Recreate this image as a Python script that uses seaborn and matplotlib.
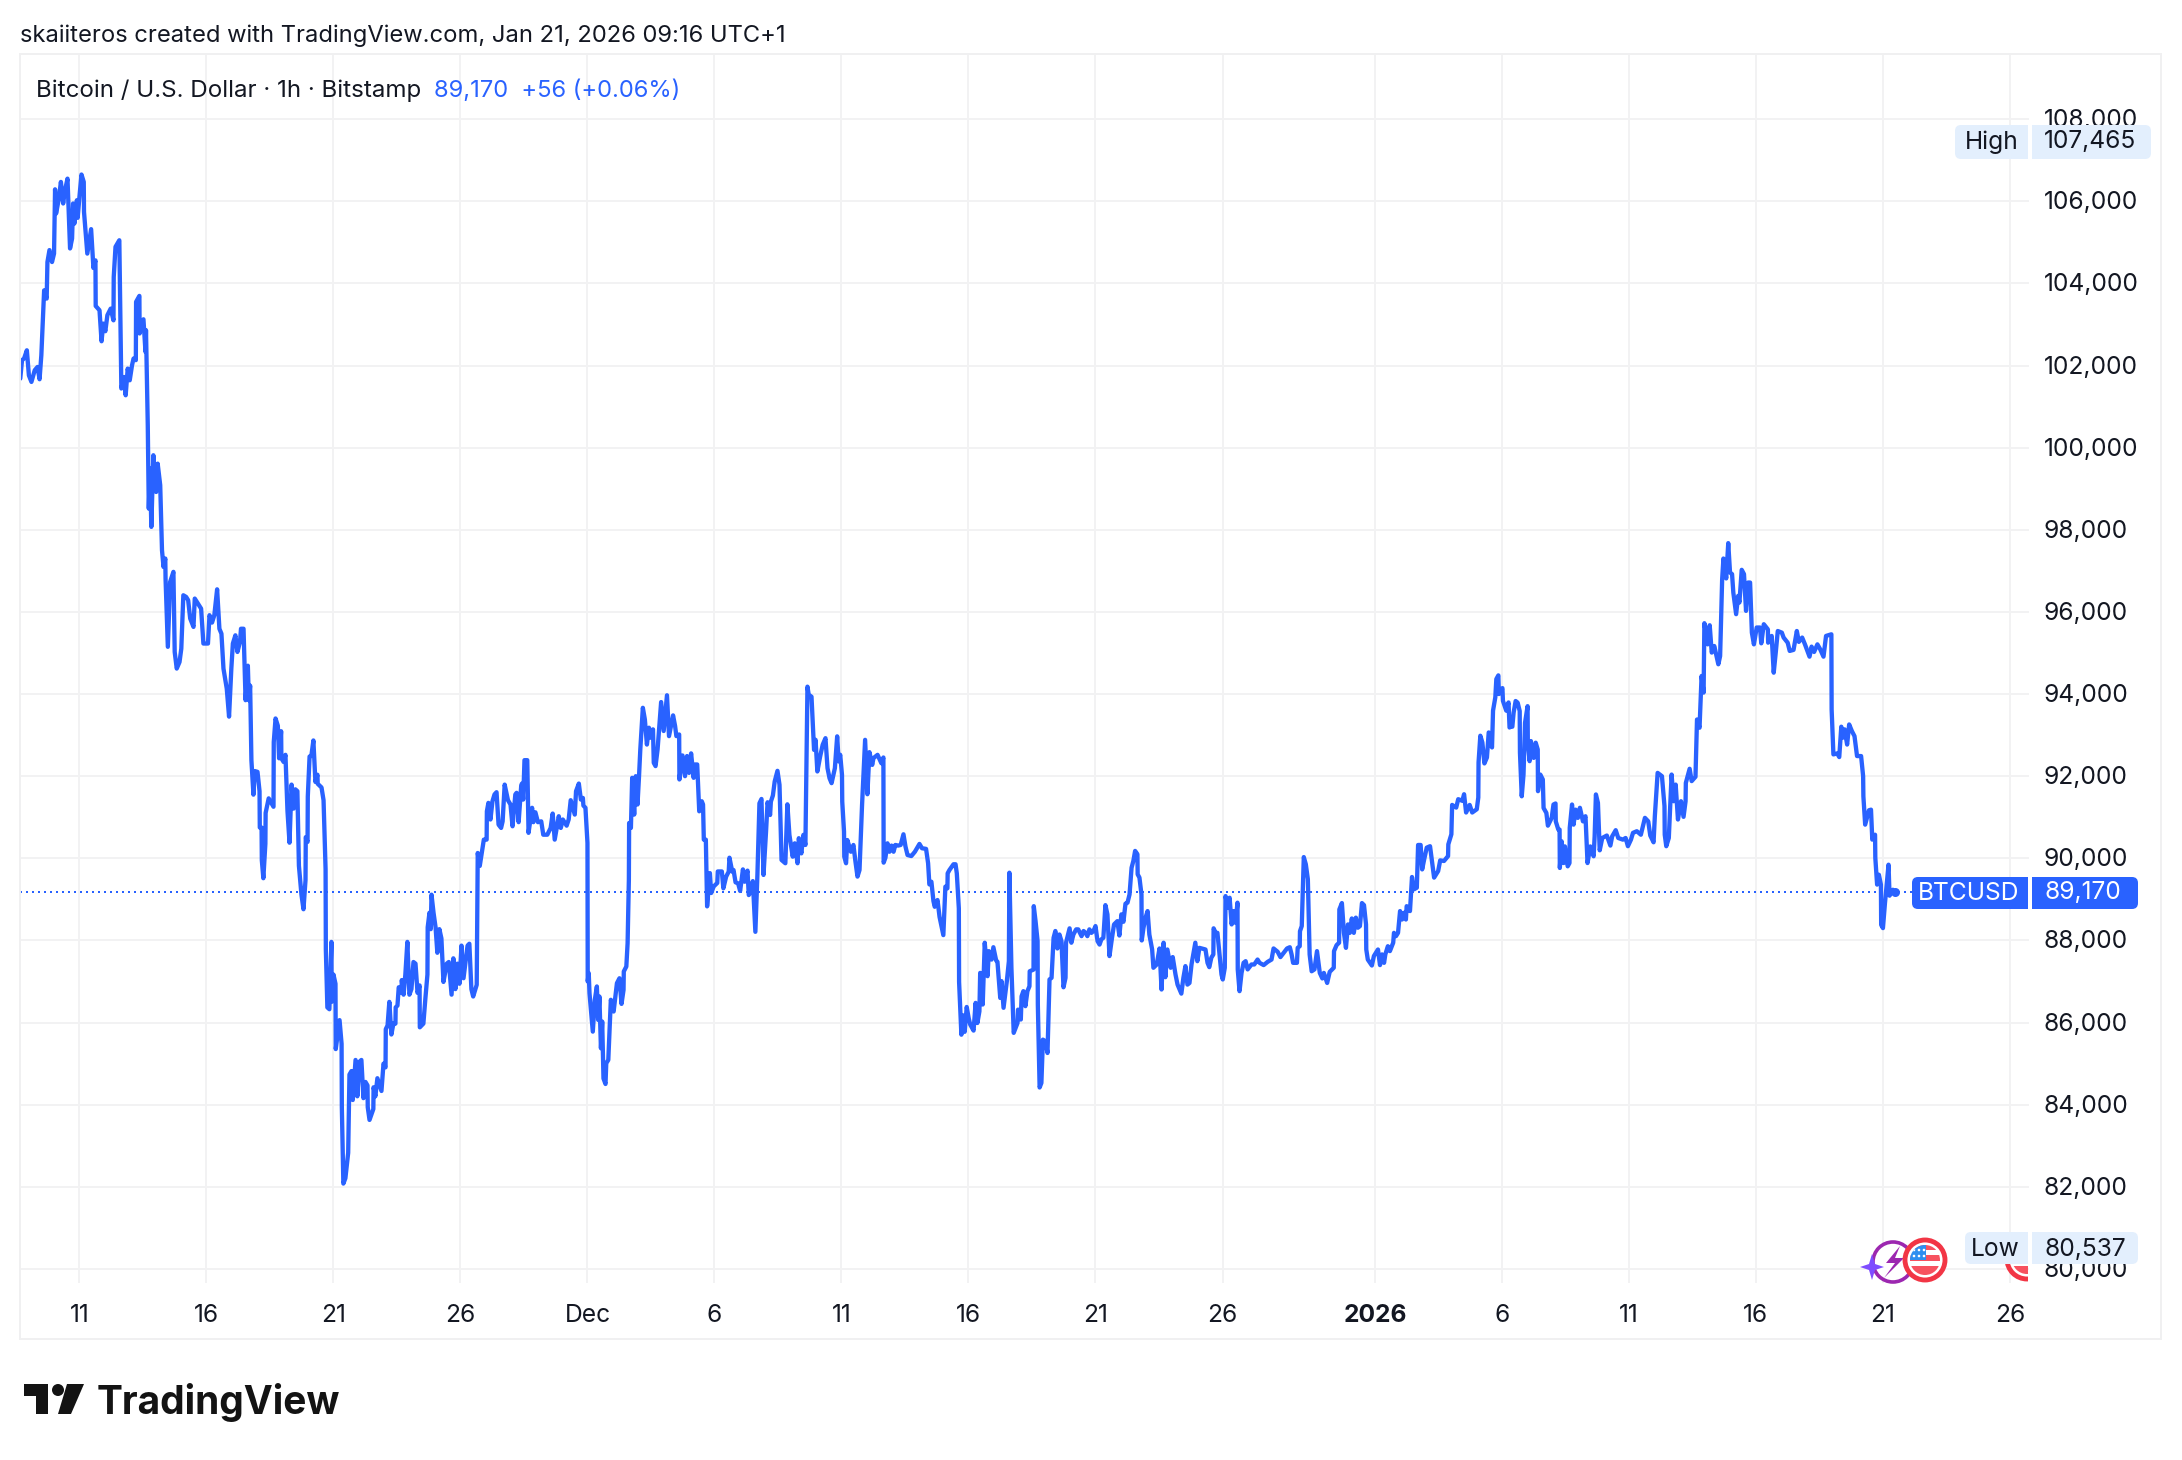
import numpy as np
import pandas as pd
import matplotlib
matplotlib.use("Agg")
import matplotlib.pyplot as plt
import matplotlib.patches as mp
from matplotlib.transforms import Affine2D, Bbox
import seaborn as sns

# Day number counted from 1 Nov 2025 = 1 (1 Dec = 31, 1 Jan = 62)
days = [
8.67,8.74,8.82,8.93,9.01,9.11,9.24,9.35,9.43,9.50,9.61,9.71,9.74,9.82,9.92,10.00,10.04,10.08,10.19,10.27,10.36,10.42,10.53,10.63,10.71,10.75,10.80,10.90,10.93,11.00,
11.08,11.17,11.18,11.31,11.46,11.55,11.63,11.64,11.79,11.87,11.94,12.02,12.10,12.23,12.34,12.35,12.42,12.57,12.65,12.76,12.82,12.90,12.98,13.07,13.13,13.22,13.23,13.36,13.37,13.52,
13.60,13.62,13.69,13.73,13.78,13.83,13.91,14.02,14.08,14.18,14.25,14.31,14.38,14.39,14.48,14.57,14.70,14.75,14.83,14.94,15.01,15.09,15.20,15.28,15.36,15.49,15.54,15.67,15.79,15.88,
16.06,16.12,16.22,16.31,16.42,16.51,16.59,16.67,16.80,16.89,16.98,17.04,17.14,17.22,17.32,17.36,17.46,
17.54,17.63,17.67,17.72,17.77,17.85,17.90,18.01,18.09,18.10,18.17,18.18,18.24,18.32,18.33,18.45,18.64,18.65,18.72,18.81,18.86,18.94,18.95,19.04,19.11,19.19,19.27,19.35,19.43,19.50,
19.58,19.64,19.74,19.82,19.90,19.91,19.98,19.99,20.06,20.13,20.21,20.29,20.37,20.38,20.53,20.61,20.69,20.70,20.76,20.84,20.92,20.93,21.00,21.08,21.09,21.24,21.32,21.33,21.39,21.47,
21.58,21.63,21.71,21.76,21.87,21.94,22.02,22.10,22.18,22.26,22.34,22.35,22.42,22.57,22.58,22.65,22.73,22.89,22.97,23.05,23.06,23.13,23.20,23.28,23.36,23.44,23.45,23.52,23.57,23.68,
23.69,23.76,23.83,23.91,23.99,24.07,24.15,24.23,24.31,24.39,24.40,24.54,24.62,24.70,24.71,24.78,24.83,24.86,24.94,25.02,25.09,25.17,25.25,25.33,25.46,25.54,25.65,25.72,25.80,25.88,
25.96,26.04,26.12,26.28,26.35,26.43,
26.50,26.64,26.68,26.76,26.92,27.03,27.04,27.10,27.18,27.26,27.34,27.42,27.50,27.60,27.66,27.74,27.87,27.97,28.05,28.16,28.21,28.29,28.39,28.42,28.47,28.52,28.63,28.68,28.82,28.87,
28.95,29.05,29.18,29.26,29.42,29.55,29.63,29.71,29.87,29.95,30.03,30.18,30.26,30.34,30.50,30.55,30.66,30.74,30.82,30.84,30.92,31.00,31.01,31.05,31.08,31.21,31.29,31.37,31.42,31.47,
31.53,31.58,31.63,31.71,31.74,31.82,31.92,32.03,32.16,32.26,32.34,32.42,32.43,32.53,32.58,32.63,32.64,32.71,32.76,32.84,32.90,32.97,33.03,33.08,33.18,33.26,33.34,33.42,33.50,33.58,
33.61,33.68,33.76,33.90,34.00,34.13,34.21,34.37,34.45,34.50,34.61,34.62,34.74,34.84,34.92,35.00,35.08,35.18,35.24,35.32,35.40,35.50,35.55,35.58,35.66,35.71,35.82,35.87,35.97,36.11,36.13,36.29,
36.35,36.46,36.56,36.59,36.70,36.75,36.83,36.93,37.01,37.12,37.19,37.30,37.35,37.43,37.51,37.61,37.69,37.77,37.85,37.93,38.03,38.09,38.19,38.22,38.30,38.37,38.48,38.56,38.64,38.79,
38.87,38.95,39.08,39.16,39.27,39.32,39.42,39.50,39.58,39.66,39.71,39.82,39.92,39.98,40.05,40.16,40.26,40.37,40.45,40.53,40.61,40.74,40.83,40.89,40.95,41.02,41.03,41.10,41.11,41.18,
41.23,41.37,41.47,41.55,41.63,41.71,41.81,41.93,42.02,42.10,42.21,42.26,42.42,42.57,42.65,42.66,42.73,42.81,42.89,42.97,43.05,43.12,43.23,43.33,43.44,43.52,43.60,43.75,43.89,44.07,
44.17,44.33,44.41,44.46,44.54,44.62,44.67,44.78,44.86,45.01,45.09,45.17,45.18,45.25,45.41,45.49,45.54,45.62,45.63,45.72,45.77,45.85,45.93,46.01,
46.07,46.20,46.28,46.35,46.43,46.46,46.56,46.64,46.75,46.80,46.91,46.98,47.09,47.14,47.25,47.30,47.38,47.46,47.51,47.59,47.61,47.69,47.78,47.93,47.95,48.06,48.09,48.16,48.24,48.32,
48.40,48.41,48.56,48.57,48.64,48.72,48.73,48.80,48.87,48.93,49.03,49.11,49.19,49.27,49.35,49.42,49.50,49.58,49.66,49.74,49.82,49.84,49.98,50.05,50.13,50.24,50.32,50.45,50.53,50.61,
50.68,50.76,50.84,50.92,51.00,51.08,51.16,51.23,51.31,51.39,51.47,51.55,51.65,51.73,51.86,51.94,52.02,52.10,52.18,52.26,52.34,52.42,52.49,52.56,52.65,52.66,52.73,52.81,52.82,52.89,
52.97,53.05,53.12,53.23,53.28,53.41,53.52,53.60,53.68,53.75,53.83,53.96,54.04,54.15,54.23,54.38,54.46,54.54,54.62,54.70,54.78,54.93,55.01,55.09,55.33,55.41,55.48,55.56,55.64,55.65,
55.73,55.80,55.96,56.01,
56.09,56.12,56.20,56.28,56.36,56.43,56.51,56.59,56.60,56.67,56.75,56.83,56.91,56.99,57.14,57.25,57.38,57.46,57.62,57.78,57.93,58.01,58.17,58.28,58.41,58.54,58.65,58.72,58.78,58.93,
58.96,59.04,59.05,59.12,59.20,59.28,59.36,59.43,59.51,59.62,59.72,59.83,59.93,59.99,60.12,60.22,60.38,60.39,60.49,60.59,60.60,60.70,60.78,60.86,60.94,61.01,61.09,61.17,61.25,61.33,
61.41,61.49,61.57,61.65,61.66,61.72,61.88,61.96,62.12,62.20,62.28,62.36,62.41,62.51,62.59,62.72,62.75,62.83,62.91,62.99,63.07,63.15,63.22,63.25,63.38,63.46,63.54,63.65,63.70,63.80,
63.86,63.94,64.04,64.17,64.33,64.49,64.57,64.72,64.88,64.89,65.01,65.04,65.20,65.28,65.44,65.51,65.59,65.73,65.83,66.01,66.07,66.08,66.15,66.23,66.31,66.41,66.48,66.61,66.65,66.74,
66.78,66.86,66.88,67.02,67.04,67.17,67.26,67.30,
67.33,67.41,67.46,67.54,67.62,67.70,67.71,67.78,67.85,67.91,68.01,68.02,68.09,68.14,68.25,68.33,68.41,68.42,68.51,68.61,68.64,68.75,68.81,68.96,69.03,69.11,69.12,69.22,69.27,69.28,
69.35,69.43,69.48,69.59,69.66,69.67,69.76,69.82,69.90,69.99,70.07,70.19,70.29,70.37,70.48,70.61,70.65,70.70,70.78,70.85,70.95,71.13,71.27,71.34,71.48,71.58,71.76,71.87,71.96,72.08,
72.16,72.31,72.47,72.63,72.76,72.84,72.97,73.02,73.13,73.30,73.40,73.41,73.47,73.57,73.68,73.76,73.84,73.93,74.05,74.15,74.23,74.24,74.39,74.47,74.62,74.68,74.78,
74.86,74.94,74.97,75.10,75.18,75.26,75.36,75.52,75.59,75.67,75.72,75.83,75.91,75.98,76.06,76.11,76.22,76.30,76.35,76.44,76.53,76.61,76.69,76.77,76.84,76.92,77.03,77.16,77.21,77.31,
77.47,77.48,77.62,77.70,77.78,77.86,78.02,78.09,78.25,78.33,78.48,78.61,78.69,78.82,78.93,79.11,79.19,79.29,79.42,79.53,79.66,79.76,79.97,79.98,80.05,80.20,80.28,80.36,80.41,80.49,
80.59,80.67,80.78,80.88,80.98,81.14,81.22,81.23,81.30,81.45,81.53,81.58,81.69,81.70,81.77,81.84,81.92,81.93,82.00,82.08,82.22,82.26,82.39,82.49]

prices = [
101680,102130,102170,102370,101760,101600,101885,101965,101665,102250,103830,103630,104520,104810,104520,104725,106290,105700,106065,106470,105945,106230,106550,104850,105090,105945,105455,106025,105595,106105,
106650,106470,105740,104725,105320,104375,104560,103450,103345,102590,103020,102835,103225,103385,103100,104155,104890,105050,101440,101720,101275,101925,101640,102005,102170,102130,103550,103695,102780,103125,
102330,102860,100545,98515,99490,98070,99815,98920,99610,99085,97500,97095,97300,96810,95150,96730,96975,95025,94620,94780,95105,96405,96365,96285,95840,95635,96325,96200,96080,95230,
95230,95920,95740,95920,96550,95590,95470,94620,94130,93450,94620,95230,95430,95025,95270,95590,95590,
93850,94690,93850,94205,92390,91550,92125,92105,91635,90750,90750,89955,89515,90355,91105,91460,91255,92830,93405,93230,92435,93095,92435,92345,92520,91150,90380,91795,91210,91680,
91635,89820,89115,88760,89470,90515,90400,91505,92480,92495,92870,91860,92035,91815,91725,91415,89735,87785,86370,86325,87965,86505,87170,86945,85355,86060,85485,83940,82080,82210,
82830,84735,84820,84115,85090,84205,85045,85090,84160,84555,84470,83940,83630,83895,84425,84205,84645,84335,85000,84910,85840,85930,86505,85710,85975,85975,86370,86415,86860,86725,
87035,86680,87170,87965,86680,86815,87475,87435,86725,86905,85885,85975,86595,87170,88320,88675,88275,89115,88675,88320,87700,88275,88050,86990,87435,87475,86680,87565,86815,87435,
86945,87875,87080,87875,87920,86815,
86635,86920,90130,89815,90455,90455,91145,91350,90945,91390,91555,91610,90820,90740,90900,91795,91415,91310,90780,91555,91595,90880,91755,91820,91430,92390,92390,90620,91230,90880,
91120,90880,90900,90575,90575,90740,91090,90455,91025,90740,90945,90795,90945,91415,91065,91635,91820,91430,91470,91285,91230,90375,87000,87205,86715,85780,86555,86880,86065,86635,
85375,86025,84640,84505,85010,85090,86555,86270,86960,87080,86455,86795,87245,87365,87935,89480,90860,90740,91960,91065,92000,91310,92000,92650,93665,93380,92770,93180,92935,93140,
92325,92245,92650,93805,93100,93970,92975,93480,93220,92975,93015,91920,92505,92000,92490,92080,92555,91960,92285,92285,91145,91390,91310,90455,90455,88830,89640,89155,89315,89400,89680,89680,
89270,89555,89675,90015,89675,89715,89415,89390,89205,89730,89430,89700,89105,89185,89445,88210,89595,91340,91445,89595,90650,91365,91055,91380,91530,91870,92130,91790,89960,89880,
91315,90570,90040,90365,89880,90490,90120,90570,90325,94180,93985,93935,92640,92885,92115,92480,92765,92925,92195,91950,91830,92195,92970,92360,92520,92035,91380,90650,90040,89880,
90445,90160,90325,89920,89555,89715,91300,92885,91560,92585,92275,92440,92520,92315,92455,89895,90015,90365,90160,90310,90160,90325,90310,90325,90585,90285,90080,90055,90160,90350,
90245,90230,89880,89365,89430,88960,88820,88985,88575,88130,89310,89270,89635,89715,89855,89855,89635,88780,86990,85705,86180,85775,86380,86100,
85950,85805,86480,85990,86275,87210,86440,87945,87130,87740,87535,87835,87510,87480,86600,87010,86360,86765,87010,87495,89650,87335,85750,85990,86315,86075,86640,86765,86400,86765,
86885,87250,87290,88835,88470,87985,86440,84420,84530,85585,85545,85260,87050,87090,88065,88230,87805,88145,87985,86860,87090,87945,88295,87945,88145,88270,88270,88105,88230,88185,
88105,88270,88185,88230,88350,87985,87900,88025,88065,88860,88635,87620,88065,88390,88470,88120,88635,88455,88895,88920,89120,89770,89935,90180,90100,89610,89530,89120,88000,88310,
88555,88715,88145,87780,87335,87415,87805,86805,87945,87105,87780,87335,87595,87170,86925,86705,87090,87375,86925,86965,87415,87945,87495,87820,87780,87455,87350,87580,87660,88295,
88185,88185,87170,87050,
87335,89080,88795,89040,88390,88715,88430,88920,87295,86765,87210,87455,87495,87295,87415,87415,87535,87455,87400,87480,87535,87805,87725,87595,87700,87805,87835,87660,87455,87455,
87820,87860,88225,88350,90030,89855,89490,87660,87250,87295,87740,87210,87075,87210,86965,87235,87335,87740,87885,87945,88755,88910,88185,87820,88390,88185,88535,88185,88555,88310,
88350,88910,88860,88390,87780,87535,87390,87620,87780,87400,87660,87455,87660,87860,87740,87945,88185,88105,88185,88715,88510,88675,88510,88835,88715,89545,89245,89285,90325,90325,
89730,89975,90260,90295,89530,89690,89950,89935,90055,90340,90585,91300,91235,91440,91400,91560,91115,91300,91115,91195,91480,92335,92985,92820,92310,92455,93065,92700,93595,93920,
94365,94455,94000,94145,93835,93595,93795,93185,
93205,93205,93545,93830,93790,93585,92570,91510,92040,93300,93705,92815,92365,92855,92445,92815,92650,91635,92040,91920,91225,91105,90795,90985,91310,91335,90900,90700,90700,89765,
90415,89885,90290,89805,89885,90740,91310,90820,91185,90985,91230,90900,91025,89885,90290,90050,90535,91555,91350,90195,90495,90555,90310,90535,90685,90495,90455,90495,90295,90455,
90620,90660,90575,90985,90900,90555,90390,91025,92080,92000,91270,90575,90295,90495,92040,91390,91795,90945,91390,91010,91390,91835,92180,91880,91985,93380,93180,
94440,94035,95725,95210,95675,95010,95170,94725,94925,96795,97300,96815,97675,96960,96920,96470,95945,96390,96230,97025,96920,96025,96715,96715,95495,95210,95620,95620,95235,95700,
95575,95250,95415,94520,95010,95535,95495,95375,95250,95050,95075,95535,95270,95375,95210,94910,95155,95025,95210,95090,94910,95415,95455,93625,92530,92555,92465,93205,92935,93140,
92770,93260,93095,92975,92490,92490,92000,91510,90820,91170,91185,90455,90575,90010,89360,89600,89360,88380,88300,88910,89845,89090,89235,89170]

price_ticks = [80000, 82000, 84000, 86000, 88000, 90000, 92000, 94000, 96000, 98000,
               100000, 102000, 104000, 106000, 108000]
date_ticks = ["2025-11-11", "2025-11-16", "2025-11-21", "2025-11-26", "2025-12-01", "2025-12-06",
              "2025-12-11", "2025-12-16", "2025-12-21", "2025-12-26", "2026-01-01", "2026-01-06",
              "2026-01-11", "2026-01-16", "2026-01-21", "2026-01-26"]
date_labels = ["11", "16", "21", "26", "Dec", "6", "11", "16", "21", "26", "2026", "6", "11", "16", "21", "26"]
last_price = 89170
high_price = 107465
low_price = 80537

W, H = 2182, 1460
BLUE = "#2962FF"
INK = "#131722"
GRID = "#f2f2f3"
LABEL_BG = "#e3effd"
FS = 17.7

sns.set_theme(style="white")
plt.rcParams["font.family"] = ["Inter", "DejaVu Sans"]

fig = plt.figure(figsize=(W / 100, H / 100), dpi=100, facecolor="white")
ax = fig.add_axes([20 / W, 1 - 1283 / H, 2009 / W, 1229 / H])

base = pd.Timestamp("2025-11-01")
frame = pd.DataFrame({
    "time": base + pd.to_timedelta(np.array(days) - 1, unit="D"),
    "price": prices,
})
sns.lineplot(data=frame, x="time", y="price", color=BLUE, linewidth=3.1, estimator=None,
             sort=False, ax=ax, zorder=3, solid_joinstyle="round", solid_capstyle="round")
ax.plot(frame["time"].iloc[-1:], frame["price"].iloc[-1:], "o", color=BLUE, ms=6.5, mew=0, zorder=3)
ax.axhline(last_price, color=BLUE, lw=1.44, ls=(0, (1, 2)), zorder=2)

ax.set_xlim(base + pd.Timedelta(days=7.66), base + pd.Timedelta(days=86.75))
ax.set_ylim(79659, 109585)
ax.set_xlabel("")
ax.set_ylabel("")
ax.yaxis.tick_right()
ax.set_yticks(price_ticks)
ax.set_yticklabels([f"{v:,}" for v in price_ticks])
ax.set_xticks(pd.to_datetime(date_ticks))
ax.set_xticklabels(date_labels)
ax.tick_params(axis="both", length=0, labelsize=FS, labelcolor=INK)
ax.tick_params(axis="y", pad=10.5)
ax.tick_params(axis="x", pad=14.8)
for lab in ax.get_xticklabels():
    if lab.get_text() == "2026":
        lab.set_fontweight("bold")
for tick in ax.yaxis.get_major_ticks():
    tick.label2.set_transform(tick.label2.get_transform() + Affine2D().translate(0, 1))
ax.grid(True, color=GRID, lw=1.4)
ax.set_axisbelow(True)
for s in ax.spines.values():
    s.set_visible(False)

# top-down pixel space for the chart furniture
px = Affine2D().scale(1, -1).translate(0, H)


def add(p):
    p.set_transform(px)
    p.set_clip_on(False)
    fig.add_artist(p)
    return p


def txt(x, y, s, **kw):
    kw.setdefault("color", INK)
    kw.setdefault("fontsize", FS)
    kw.setdefault("va", "center")
    return fig.text(x / W, 1 - y / H, s, **kw)


def tag(x0, x1, y0, y1, color, side):
    add(mp.FancyBboxPatch((x0, y0), x1 - x0, y1 - y0, boxstyle="round,pad=0,rounding_size=6",
                          fc=color, ec="none", zorder=5))
    if side == "left":
        add(mp.Rectangle((x1 - 10, y0), 10, y1 - y0, fc=color, ec="none", zorder=5))
    else:
        add(mp.Rectangle((x0, y0), 10, y1 - y0, fc=color, ec="none", zorder=5))


def clipped(p, clip):
    p.set_clip_on(True)
    p.set_clip_path(clip)
    return p


add(mp.Rectangle((20, 54), 2141, 1285, fc="none", ec="#f0f0f1", lw=1.4, zorder=1))
txt(20, 36, "skaiiteros created with TradingView.com, Jan 21, 2026 09:16 UTC+1", ha="left", fontsize=17.1)
txt(36, 91, "Bitcoin / U.S. Dollar · 1h · Bitstamp", ha="left", fontsize=17.4)
txt(434, 91, f"{last_price:,}  +56 (+0.06%)", ha="left", color=BLUE, fontsize=17.1)

# Secondary icons at the bottom of the plot
edge = add(mp.Circle((2027, 1259), 20, fc="white", ec="#f23645", lw=3.5, zorder=4))
edge.set_clip_on(True)
edge.set_clip_box(Bbox([[0, 0], [2028, H]]))
inner = add(mp.Circle((2027, 1259), 15, fc="white", ec="none", zorder=4))
inner.set_clip_on(True)
inner.set_clip_box(Bbox([[0, 0], [2028, H]]))
stripe = add(mp.Rectangle((2005, 1266), 23, 10, fc="#f7525f", ec="none", zorder=4))
clipped(stripe, inner)

add(mp.Circle((1893, 1262), 20, fc="white", ec="#9c27b0", lw=2.6, zorder=4))
add(mp.Polygon([(1900, 1246), (1886, 1263), (1895, 1263), (1884, 1278), (1904, 1258), (1895, 1258)],
               fc="#9c27b0", ec="none", zorder=4))
add(mp.Polygon([(1872, 1254), (1875, 1264), (1884, 1267), (1875, 1270), (1872, 1280),
                (1869, 1270), (1860, 1267), (1869, 1264)], fc="#7e4dff", ec="none", zorder=4))
add(mp.Circle((1925, 1260), 20, fc="white", ec="#f23645", lw=3.5, zorder=4))
flag = add(mp.Circle((1925, 1260), 15, fc="white", ec="none", zorder=4))
for y0, h in [(1244, 6), (1255, 6), (1266, 10)]:
    clipped(add(mp.Rectangle((1910, y0), 30, h, fc="#f7525f", ec="none", zorder=4)), flag)
clipped(add(mp.Rectangle((1909, 1244), 17, 16, fc="#2e8ff0", ec="none", zorder=4)), flag)
for sx, sy in [(1914, 1250), (1919, 1250), (1924, 1250), (1914, 1256), (1919, 1256), (1924, 1256)]:
    clipped(add(mp.Circle((sx, sy), 1.3, fc="white", ec="none", zorder=4)), flag)

# High / Low / last-price tags
tag(1955, 2028, 125, 159, LABEL_BG, "left")
tag(2032, 2151, 125, 159, LABEL_BG, "right")
txt(1992, 142, "High", ha="center", zorder=6)
txt(2044, 142, f"{high_price:,}", ha="left", zorder=6)
tag(1965, 2028, 1232, 1264, LABEL_BG, "left")
tag(2032, 2138, 1232, 1264, LABEL_BG, "right")
txt(1995, 1250, "Low", ha="center", zorder=6)
txt(2044, 1249, f"{low_price:,}", ha="left", zorder=6)
tag(1912, 2028, 877, 909, BLUE, "left")
tag(2032, 2138, 877, 909, BLUE, "right")
txt(1969, 894, "BTCUSD", ha="center", color="white", zorder=6)
txt(2044, 892, f"{last_price:,}", ha="left", color="white", zorder=6)

# TradingView logo
LOGO = "#131313"
add(mp.Polygon([(24, 1384), (48, 1384), (48, 1414), (36, 1414), (36, 1396), (24, 1396)], fc=LOGO, ec="none"))
add(mp.Circle((58, 1390), 6, fc=LOGO, ec="none"))
add(mp.Polygon([(67, 1384), (84, 1384), (71, 1414), (58, 1414)], fc=LOGO, ec="none"))
fig.text(97 / W, 1 - 1414 / H, "TradingView", color=LOGO, fontsize=28, fontweight="bold", va="baseline", ha="left")

fig.savefig("out.png", dpi=100)
